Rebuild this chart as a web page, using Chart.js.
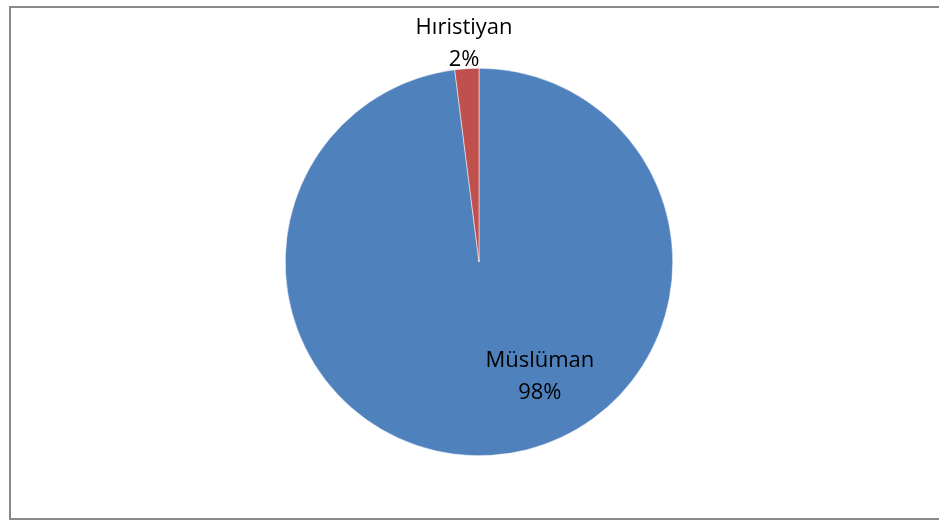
<!DOCTYPE html>
<html>
<head>
<meta charset="utf-8">
<script src="https://cdn.jsdelivr.net/npm/chart.js@4"></script>
<style>
  html, body { margin: 0; padding: 0; background: #ffffff; }
  #wrap { position: relative; width: 939px; height: 520px; overflow: hidden; }
  #frame { position: absolute; left: 9px; top: 6px; width: 940px; height: 510px; border: 2px solid #8a8a8a; box-sizing: content-box; }
  canvas { position: absolute; left: 0; top: 0; }
</style>
</head>
<body>
<div id="wrap">
  <div id="frame"></div>
  <canvas id="c" width="939" height="520"></canvas>
</div>
<script>
const categories = ["Müslüman", "Hıristiyan"];
const values = [98, 2];
const percentLabels = ["98%", "2%"];
const colors = ["#4F81BD", "#C0504D"];

// label block centres relative to pie centre, as fractions of radius
const labelAnchors = [[0.314, 0.59], [-0.077, -1.124]];

const labelPlugin = {
  id: 'sliceLabels',
  afterDatasetsDraw(chart) {
    const ctx = chart.ctx;
    const meta = chart.getDatasetMeta(0);
    ctx.save();
    ctx.font = '22px "Open Sans", "Liberation Sans", sans-serif';
    ctx.fillStyle = '#000000';
    ctx.textAlign = 'center';
    ctx.textBaseline = 'middle';
    meta.data.forEach((arc, i) => {
      const r = arc.outerRadius;
      const x = arc.x + labelAnchors[i][0] * r;
      const y = arc.y + labelAnchors[i][1] * r;
      ctx.fillText(categories[i], x, y - 16);
      ctx.fillText(percentLabels[i], x, y + 16);
    });
    ctx.restore();
  }
};

new Chart(document.getElementById('c'), {
  type: 'pie',
  data: {
    labels: categories,
    datasets: [{
      data: values,
      backgroundColor: colors,
      borderColor: '#ffffff',
      borderWidth: 0.5
    }]
  },
  options: {
    responsive: false,
    animation: false,
    layout: { padding: { left: 285, right: 266, top: 68, bottom: 64 } },
    plugins: {
      legend: { display: false },
      tooltip: { enabled: false }
    }
  },
  plugins: [labelPlugin]
});
</script>
</body>
</html>
